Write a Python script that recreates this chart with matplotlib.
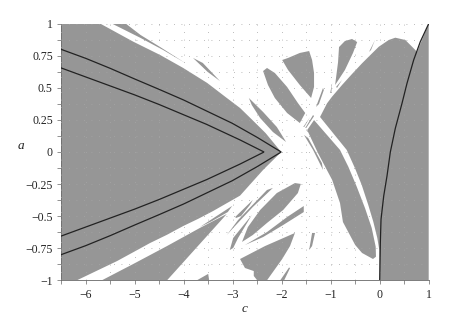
import matplotlib
matplotlib.use("Agg")
import matplotlib.pyplot as plt

GRAY = "#969696"
# Stability regions as (c, a) outlines
main_c = [-6.5,-5.70,-5.03,-4.48,-4.01,-3.52,-3.12,-2.85,-2.60,-2.33,-2.01,-2.38,-2.85,-3.40,-3.70,-4.01,-4.34,-4.69,-5.0,-5.36,-6.18,-6.5]
main_a = [1,1,.86,.756,.655,.538,.421,.343,.25,.148,0,-.14,-.34,-.46,-.52,-.577,-.645,-.71,-.775,-.85,-1,-1]
right_c = [1,.761,.727,.523,.319,.184,-.02,-.19,-.361,-.565,-.769,-.973,-1.075,-1.218,-.673,-.504,-.367,-.233,-.131,-.049,-.008,0,1]
right_a = [1,.779,.795,.873,.891,.873,.82,.756,.691,.608,.522,.431,.379,.273,.016,-.127,-.257,-.413,-.543,-.67,-.764,-1,-1]
band_c = [-1.34,-1.48,-1.26,-.97,-.81,-.75,-.50,-.36,-.137,-.076,-.082,-.163,-.30,-.469,-.64,-.81]
band_a = [.249,.171,-.008,-.218,-.398,-.546,-.725,-.787,-.834,-.816,-.738,-.592,-.437,-.27,-.115,.016]
wedge_c = [-5.67,-5.03,-4.34,-3.67,-3.12,-4.34]
wedge_a = [-1,-.873,-.733,-.592,-.483,-1]
foot_c = [-3.73,-3.50,-3.48]
foot_a = [-1,-.95,-1]
s1_c = [-3.67,-3.36,-3.01,-3.10,-3.42]
s1_a = [-.585,-.507,-.42,-.468,-.538]
s2_c = [-2.95,-2.59,-2.65,-2.83,-2.93]
s2_a = [-.507,-.374,-.413,-.499,-.514]
s3_c = [-3.12,-2.89,-2.30,-2.18,-2.59,-2.99]
s3_a = [-.647,-.53,-.296,-.28,-.429,-.592]
s4_c = [-3.06,-2.99,-2.61,-2.89,-2.99]
s4_a = [-.764,-.67,-.491,-.67,-.748]
s5_c = [-2.81,-2.69,-2.44,-2.10,-1.73,-1.61,-1.67,-1.97,-2.30,-2.59]
s5_a = [-.701,-.585,-.452,-.32,-.242,-.249,-.32,-.452,-.553,-.647]
s6_c = [-2.75,-2.30,-1.89,-1.55,-1.55,-1.97,-2.38]
s6_a = [-.725,-.624,-.507,-.421,-.468,-.569,-.663]
s7_c = [-1.73,-2.34,-2.85,-2.75,-2.57,-2.57,-2.50,-2.30,-1.99,-1.83]
s7_a = [-.631,-.733,-.834,-.904,-.928,-.966,-1,-1,-.834,-.733]
s8_c = [-1.85,-2.03,-1.95,-1.83]
s8_a = [-.90,-1,-1,-.905]
s9_c = [-1.32,-1.38,-1.44,-1.38]
s9_a = [-.631,-.631,-.764,-.733]
t1_c = [-5.46,-4.88,-4.42,-3.97,-4.48,-4.88,-5.18]
t1_a = [1,.889,.795,.694,.818,.912,1]
t2_c = [-3.81,-3.61,-3.26,-3.51]
t2_a = [.733,.694,.553,.624]
long_c = [-2.67,-2.38,-2.10,-1.91,-2.18,-2.44,-2.61]
long_a = [.421,.312,.195,.078,.156,.265,.366]
p1_c = [-2.38,-2.30,-2.14,-1.89,-1.67,-1.52,-1.63,-1.89,-2.14,-2.28]
p1_a = [.631,.655,.616,.507,.382,.304,.226,.304,.421,.522]
p2_c = [-1.99,-1.87,-1.63,-1.44,-1.38,-1.34,-1.34,-1.40,-1.63,-1.87]
p2_a = [.717,.733,.772,.787,.717,.616,.507,.421,.522,.639]
p3_c = [-.83,-.71,-.565,-.46,-.545,-.71,-.91,-.85]
p3_a = [.818,.865,.881,.857,.772,.639,.522,.70]
c1_c = [-1.157,-1.30,-1.24,-1.14]
c1_a = [.499,.351,.374,.483]
c2_c = [-.97,-1.01,-.99]
c2_a = [.538,.46,.46]
c3_c = [-.77,-.89,-.87]
c3_a = [.561,.507,.50]
c4_c = [-.096,-.218,-.178]
c4_a = [.873,.78,.795]
c5_c = [-1.36,-1.52,-1.50,-1.34]
c5_a = [.288,.187,.187,.28]
c6_c = [-1.42,-1.56,-1.54]
c6_a = [.273,.195,.195]
c7_c = [-1.36,-1.48,-1.46]
c7_a = [.218,.156,.156]
c8_c = [-1.545,-1.36,-1.157,-1.18,-1.46]
c8_a = [.133,.016,-.14,-.086,.109]

regions = [(main_c,main_a),(right_c,right_a),(band_c,band_a),(wedge_c,wedge_a),(foot_c,foot_a),
           (s1_c,s1_a),(s2_c,s2_a),(s3_c,s3_a),(s4_c,s4_a),(s5_c,s5_a),(s6_c,s6_a),(s7_c,s7_a),
           (s8_c,s8_a),(s9_c,s9_a),(t1_c,t1_a),(t2_c,t2_a),(long_c,long_a),(p1_c,p1_a),(p2_c,p2_a),
           (p3_c,p3_a),(c1_c,c1_a),(c2_c,c2_a),(c3_c,c3_a),(c4_c,c4_a),(c5_c,c5_a),(c6_c,c6_a),
           (c7_c,c7_a),(c8_c,c8_a)]

# Black curves
outer_c = [-6.5,-6,-5.5,-5,-4.5,-4,-3.53,-3.01,-2.5,-2.01]
outer_a = [.80,.73,.652,.569,.488,.405,.319,.224,.114,0]
inner_c = [-6.5,-6,-5.5,-5,-4.5,-4,-3.53,-2.85,-2.36]
inner_a = [.655,.585,.515,.445,.37,.29,.215,.094,0]
right_curve_c = [1,.829,.693,.557,.455,.319,.217,.149,.082,.027,.013,0]
right_curve_a = [1,.86,.717,.535,.379,.185,0,-.187,-.343,-.525,-.707,-1]

x_major = [-6,-5,-4,-3,-2,-1,0,1]
x_minor = [-6.5,-5.5,-4.5,-3.5,-2.5,-1.5,-0.5,0.5]
y_major = [-1,-.75,-.5,-.25,0,.25,.5,.75,1]
y_labels = ["\u22121","\u22120.75","\u22120.5","\u22120.25","0","0.25","0.5","0.75","1"]
y_minor = [-.875,-.625,-.375,-.125,.125,.375,.625,.875]

plt.rcParams["font.family"] = ["Liberation Serif", "DejaVu Serif"]
fig = plt.figure(figsize=(4.72, 3.16), dpi=100)
ax = fig.add_axes([61.2/472, 1-280.3/316, (428.7-61.2)/472, (280.3-23.7)/316])
for xs, ys in regions:
    ax.fill(xs, ys, color=GRAY, lw=0, zorder=1)

ax.set_xlim(-6.5, 1)
ax.set_ylim(-1, 1)
ax.set_xticks(x_major)
ax.set_xticklabels(["\u2212%d" % -v if v < 0 else str(v) for v in x_major])
ax.set_xticks(x_minor, minor=True)
ax.set_yticks(y_major)
ax.set_yticklabels(y_labels)
ax.set_yticks(y_minor, minor=True)
ax.grid(True, which="both", color="#a6a6a6", lw=0.6, ls=(0, (1, 8)), zorder=2)
ax.set_axisbelow(False)

for xs, ys in ((outer_c, outer_a), (inner_c, inner_a)):
    ax.plot(xs + xs[-2::-1], ys + [-v for v in ys[-2::-1]], color="#222222", lw=0.9, zorder=3,
            solid_joinstyle="miter")
ax.plot(right_curve_c, right_curve_a, color="#222222", lw=0.9, zorder=3)

for s in ("top", "right"):
    ax.spines[s].set_visible(False)
for s in ("left", "bottom"):
    ax.spines[s].set_color("#666666")
    ax.spines[s].set_linewidth(0.6)
ax.tick_params(which="both", direction="out", length=3, width=0.5, color="#666666",
               labelsize=8.5, labelcolor="#222222", pad=3)

fig.text(21/472, 1-146/316, "a", style="italic", fontsize=9.5, ha="center", va="center", color="#222222")
fig.text(245/472, 1-309/316, "c", style="italic", fontsize=9.5, ha="center", va="center", color="#222222")
fig.savefig("out.png", dpi=100)
